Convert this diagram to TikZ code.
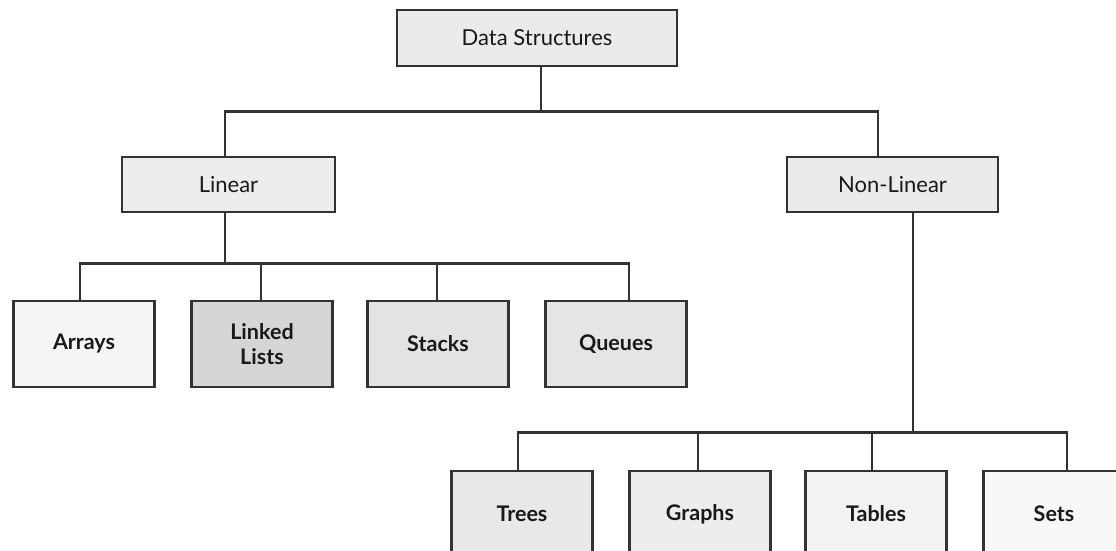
\documentclass[tikz,border=0pt]{standalone}
\usepackage{fontspec}
\setmainfont{Lato}
\begin{document}
\begin{tikzpicture}[x=1pt,y=1pt,
  box/.style={draw=black!80,line width=2.6pt,rectangle,align=center,
    font=\fontsize{22}{26}\selectfont,text=black!90},
  leaf/.style={box,minimum width=141pt,minimum height=86pt,
    font=\fontsize{21.5}{25}\selectfont\bfseries},
  link/.style={draw=black!80,line width=2.6pt}]
\useasboundingbox (0,0) rectangle (1116,-550);
\clip (0,0) rectangle (1116,-550);

% root and the two families
\node[box,fill=black!8,minimum width=280pt,minimum height=56pt] (ds) at (537,-38) {Data Structures};
\node[box,fill=black!7,minimum width=213pt,minimum height=55pt] (lin) at (228.5,-184.5) {Linear};
\node[box,fill=black!8,minimum width=211pt,minimum height=55pt] (nonlin) at (892.5,-184.5) {Non-Linear};

% linear structures
\node[leaf,fill=black!4]  (arrays) at (84,-344)  {Arrays};
\node[leaf,fill=black!16] (linked) at (262,-344) {Linked\\Lists};
\node[leaf,fill=black!11] (stacks) at (438,-344) {Stacks};
\node[leaf,fill=black!10] (queues) at (616,-344) {Queues};

% non-linear structures
\node[leaf,fill=black!9] (trees)  at (522,-514)  {Trees};
\node[leaf,fill=black!7] (graphs) at (700,-514)  {Graphs};
\node[leaf,fill=black!5] (tables) at (876,-514)  {Tables};
\node[leaf,fill=black!3] (sets)   at (1054,-514) {Sets};

% root to families
\draw[link] ([xshift=4pt]ds.south) -- ++(0,-44) coordinate (rj)
  -| ([xshift=-3.5pt]lin.north);
\draw[link] (rj) -| ([xshift=-14.5pt]nonlin.north);

% linear branch
\draw[link] ([xshift=-3.5pt]lin.south) -- ++(0,-50) coordinate (lj);
\draw[link] (lj) -| ([xshift=-4pt]arrays.north);
\draw[link] (lj) -| ([xshift=-1pt]linked.north);
\draw[link] (lj) -| ([xshift=-1pt]stacks.north);
\draw[link] (lj) -| ([xshift=13pt]queues.north);

% non-linear branch
\draw[link] ([xshift=20.5pt]nonlin.south) -- ++(0,-219) coordinate (nj);
\draw[link] (nj) -| ([xshift=-4pt]trees.north);
\draw[link] (nj) -| ([xshift=-2pt]graphs.north);
\draw[link] (nj) -| ([xshift=-4pt]tables.north);
\draw[link] (nj) -| ([xshift=13pt]sets.north);
\end{tikzpicture}
\end{document}
